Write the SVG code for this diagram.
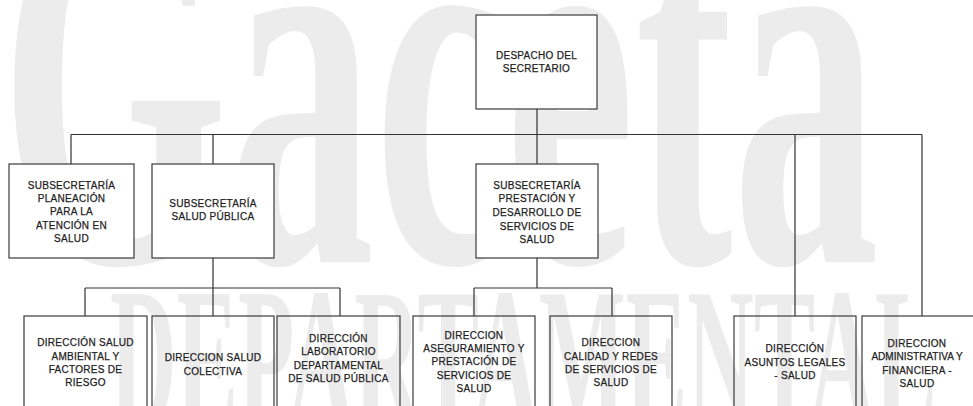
<svg xmlns="http://www.w3.org/2000/svg" width="973" height="406" viewBox="0 0 973 406">
<style>
.wm{font-family:"Liberation Serif",serif;font-weight:bold;fill:#ececec}
.box{fill:#fff;stroke:#3a3a3a;stroke-width:1.2}
.obox{fill:none;stroke:#3a3a3a;stroke-width:1.2}
.t{font-family:"Liberation Sans",Arial,sans-serif;font-size:10px;letter-spacing:0.3px;fill:#1e1e1e;stroke:#1e1e1e;stroke-width:0.25;text-anchor:middle}
.con{fill:none;stroke:#333;stroke-width:1.2}
</style>
<rect width="973" height="406" fill="#fff"/>
<g id="watermark">
<text class="wm" transform="translate(0,262) scale(0.538,1)" font-size="545">Gaceta</text>
<text class="wm" transform="translate(110,425) scale(0.461,1)" font-size="200">DEPARTAMENTAL</text>
</g>
<g id="connectors">
<path class="con" d="M537,109 V134.5 M71,134.5 H922 M71,134.5 V164 M213,134.5 V164 M537,134.5 V164 M795,134.5 V316 M922,134.5 V316"/>
<path class="con" d="M213,258 V288 M85,288 H340 M85,288 V316 M213,288 V316 M340,288 V316"/>
<path class="con" d="M537,258 V288 M474,288 H612 M474,288 V316 M612,288 V316"/>
</g>
<g id="despacho">
<rect class="box" x="476" y="15" width="121" height="94"/>
<text class="t" x="536.5" y="58.6">DESPACHO DEL</text>
<text class="t" x="536.5" y="72">SECRETARIO</text>
</g>
<g id="sub-planeacion">
<rect class="box" x="9" y="164" width="125" height="94"/>
<text class="t" x="71.5" y="188.6">SUBSECRETARÍA</text>
<text class="t" x="71.5" y="202">PLANEACIÓN</text>
<text class="t" x="71.5" y="215.4">PARA LA</text>
<text class="t" x="71.5" y="228.8">ATENCIÓN EN</text>
<text class="t" x="71.5" y="242.2">SALUD</text>
</g>
<g id="sub-salud-publica">
<rect class="box" x="152" y="164" width="122" height="94"/>
<text class="t" x="213" y="206.9">SUBSECRETARÍA</text>
<text class="t" x="213" y="220.3">SALUD PÚBLICA</text>
</g>
<g id="sub-prestacion">
<rect class="box" x="476" y="164" width="122" height="94"/>
<text class="t" x="537" y="188.5">SUBSECRETARÍA</text>
<text class="t" x="537" y="202.2">PRESTACIÓN Y</text>
<text class="t" x="537" y="215.9">DESARROLLO DE</text>
<text class="t" x="537" y="229.6">SERVICIOS DE</text>
<text class="t" x="537" y="243.3">SALUD</text>
</g>
<g id="dir-ambiental">
<rect class="obox" x="24" y="316" width="123" height="110"/>
<text class="t" x="85.5" y="346.3">DIRECCIÓN SALUD</text>
<text class="t" x="85.5" y="359.6">AMBIENTAL Y</text>
<text class="t" x="85.5" y="372.9">FACTORES DE</text>
<text class="t" x="85.5" y="386.2">RIESGO</text>
</g>
<g id="dir-colectiva">
<rect class="obox" x="152" y="316" width="122" height="110"/>
<text class="t" x="213" y="361.3">DIRECCION SALUD</text>
<text class="t" x="213" y="374.6">COLECTIVA</text>
</g>
<g id="dir-laboratorio">
<rect class="obox" x="277" y="316" width="123" height="110"/>
<text class="t" x="338.5" y="341.9">DIRECCIÓN</text>
<text class="t" x="338.5" y="355.2">LABORATORIO</text>
<text class="t" x="338.5" y="368.5">DEPARTAMENTAL</text>
<text class="t" x="338.5" y="381.8">DE SALUD PÚBLICA</text>
</g>
<g id="dir-aseguramiento">
<rect class="obox" x="413" y="316" width="122" height="110"/>
<text class="t" x="474" y="338.6">DIRECCION</text>
<text class="t" x="474" y="351.9">ASEGURAMIENTO Y</text>
<text class="t" x="474" y="365.2">PRESTACIÓN DE</text>
<text class="t" x="474" y="378.5">SERVICIOS DE</text>
<text class="t" x="474" y="391.8">SALUD</text>
</g>
<g id="dir-calidad">
<rect class="obox" x="550" y="316" width="122" height="110"/>
<text class="t" x="611" y="346.3">DIRECCION</text>
<text class="t" x="611" y="359.6">CALIDAD Y REDES</text>
<text class="t" x="611" y="372.9">DE SERVICIOS DE</text>
<text class="t" x="611" y="386.2">SALUD</text>
</g>
<g id="dir-legales">
<rect class="obox" x="734" y="316" width="122" height="110"/>
<text class="t" x="795" y="352.1">DIRECCIÓN</text>
<text class="t" x="795" y="365.6">ASUNTOS LEGALES</text>
<text class="t" x="795" y="379.1">- SALUD</text>
</g>
<g id="dir-administrativa">
<rect class="obox" x="862" y="316" width="122" height="110"/>
<text class="t" x="917" y="346.9">DIRECCION</text>
<text class="t" x="917" y="360.2" style="letter-spacing:0">ADMINISTRATIVA Y</text>
<text class="t" x="917" y="373.5">FINANCIERA -</text>
<text class="t" x="917" y="386.8">SALUD</text>
</g>
</svg>
